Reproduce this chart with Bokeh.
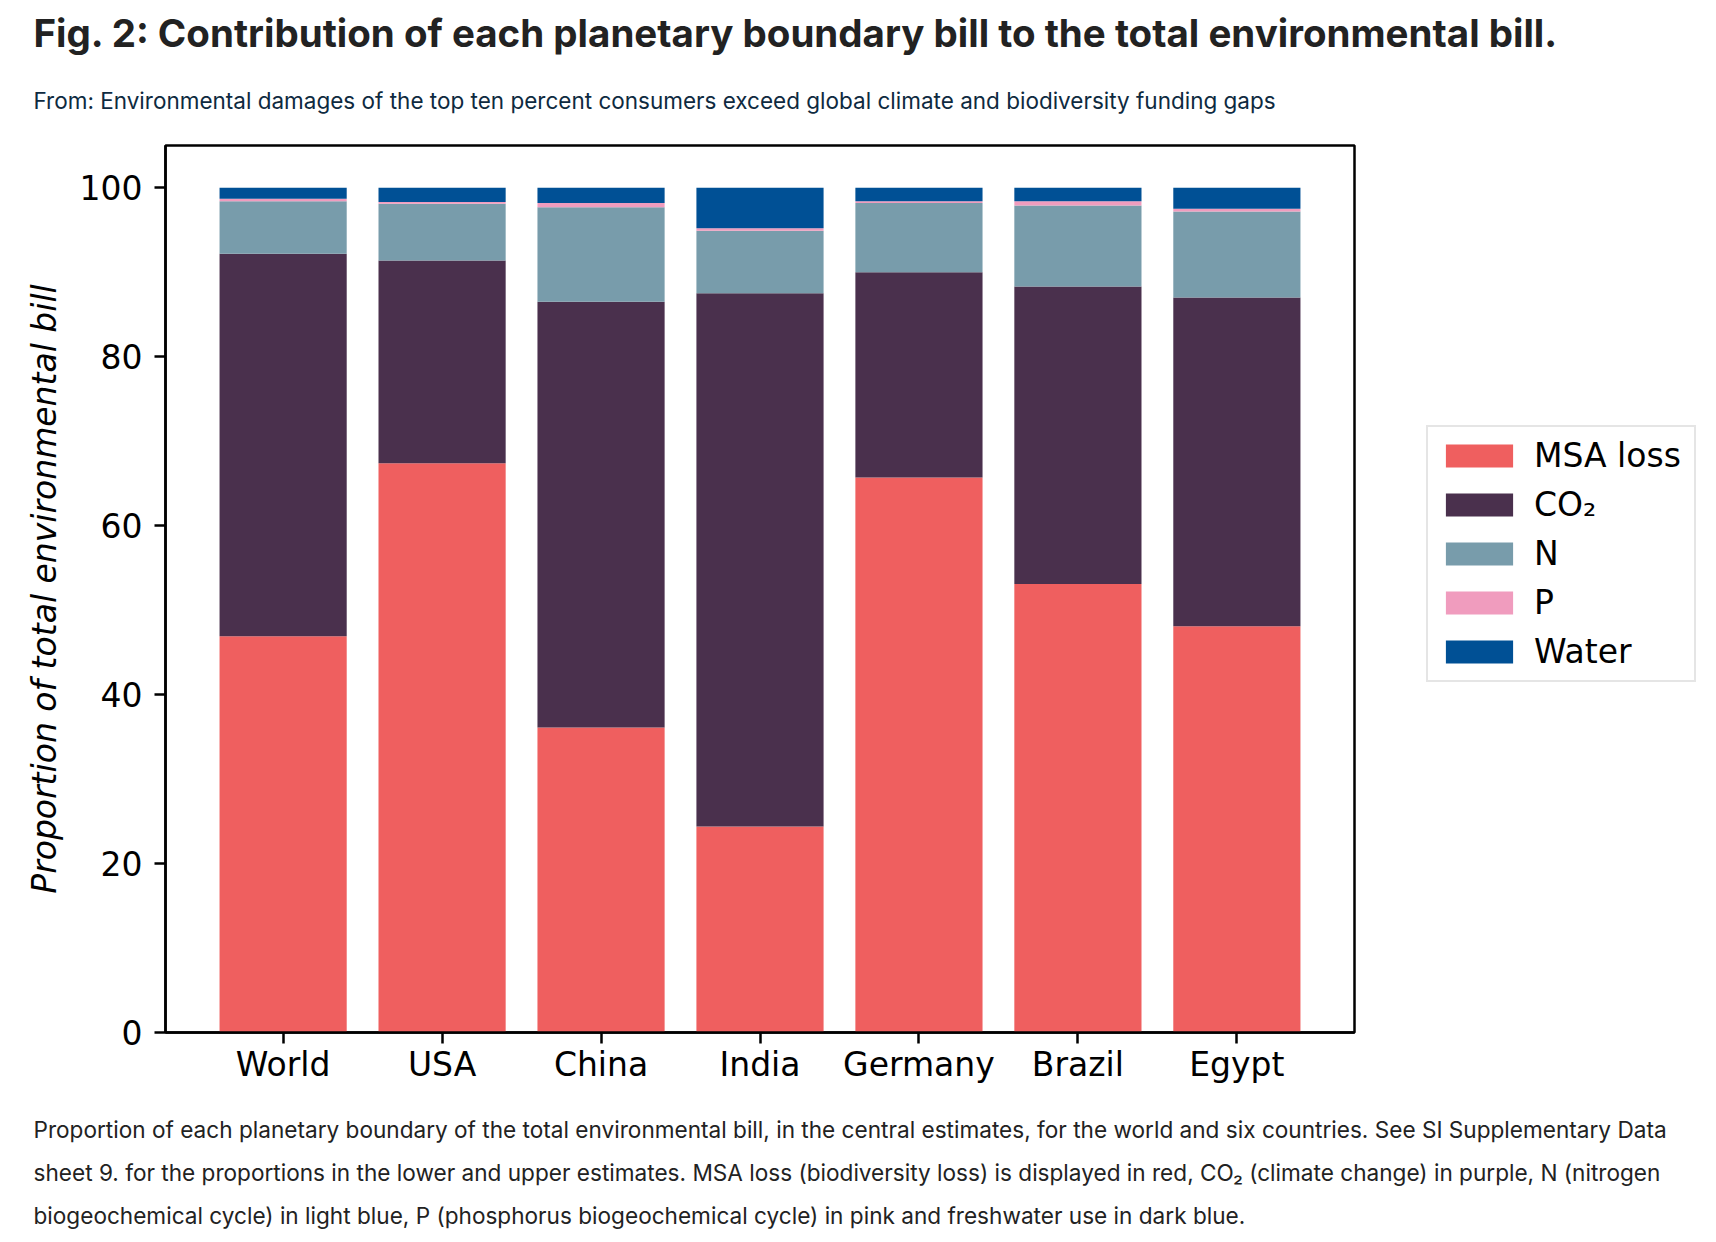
from bokeh.plotting import figure
from bokeh.models import (ColumnDataSource, FactorRange, Range1d, FixedTicker,
                          Title, Legend, LegendItem)
from bokeh.embed import file_html
from bokeh.resources import INLINE

# ---------------- data ----------------
countries = ["World", "USA", "China", "India", "Germany", "Brazil", "Egypt"]
msa_loss = [46.9, 67.4, 36.1, 24.4, 65.7, 53.1, 48.1]
co2 = [45.3, 24.0, 50.4, 63.1, 24.3, 35.2, 38.9]
nitrogen = [6.2, 6.7, 11.2, 7.4, 8.2, 9.6, 10.2]
phosphorus = [0.3, 0.2, 0.5, 0.3, 0.2, 0.5, 0.3]
water = [1.3, 1.7, 1.8, 4.8, 1.6, 1.6, 2.5]

series_names = ["MSA loss", "CO₂", "N", "P", "Water"]
series_keys = ["msa", "co2", "n", "p", "water"]
series_colors = ["#ef5f5f", "#4a304d", "#789cab", "#f09cbe", "#005095"]
y_ticks = [0, 20, 40, 60, 80, 100]

title_text = "Fig. 2: Contribution of each planetary boundary bill to the total environmental bill."
from_text = ("From: Environmental damages of the top ten percent consumers exceed global "
             "climate and biodiversity funding gaps")
caption_1 = ("Proportion of each planetary boundary of the total environmental bill, in the central "
             "estimates, for the world and six countries. See SI Supplementary Data")
caption_2 = ("sheet 9. for the proportions in the lower and upper estimates. MSA loss (biodiversity loss) is "
             "displayed in red, CO₂ (climate change) in purple, N (nitrogen")
caption_3 = ("biogeochemical cycle) in light blue, P (phosphorus biogeochemical cycle) in pink and "
             "freshwater use in dark blue.")

source = ColumnDataSource(dict(country=countries, msa=msa_loss, co2=co2,
                               n=nitrogen, p=phosphorus, water=water))

FONT = "DejaVu Sans"
TXT = "Inter"

p = figure(x_range=FactorRange(*countries, range_padding=0.48 / 7),
           y_range=Range1d(0, 105),
           frame_width=1189, frame_height=887,
           min_border_left=165, min_border_right=346,
           min_border_top=145, min_border_bottom=0,
           output_backend="svg", toolbar_location=None)
p.background_fill_color = "white"
p.border_fill_color = "white"
p.outline_line_color = "black"
p.outline_line_width = 2.5
p.xgrid.visible = False
p.ygrid.visible = False

renderers = p.vbar_stack(series_keys, x="country", width=0.8, source=source,
                         fill_color=series_colors, line_color=None)

for ax in (p.xaxis[0], p.yaxis[0]):
    ax.axis_line_color = "black"
    ax.axis_line_width = 2.5
    ax.major_tick_line_color = "black"
    ax.major_tick_line_width = 2.5
    ax.major_tick_out = 11
    ax.major_tick_in = 0
    ax.minor_tick_line_color = None
    ax.major_label_text_font = FONT
    ax.major_label_text_font_size = "33px"
    ax.major_label_text_color = "black"
    ax.major_label_standoff = 12
p.xaxis[0].major_label_standoff = 1

p.yaxis[0].ticker = FixedTicker(ticks=y_ticks)
p.yaxis[0].axis_label = "Proportion of total environmental bill"
p.yaxis[0].axis_label_text_font = FONT
p.yaxis[0].axis_label_text_font_size = "33px"
p.yaxis[0].axis_label_text_font_style = "italic"
p.yaxis[0].axis_label_text_color = "black"
p.yaxis[0].axis_label_standoff = 13

legend = Legend(items=[LegendItem(label=n, renderers=[r]) for n, r in zip(series_names, renderers)],
                location=(72, 350),
                glyph_width=84, glyph_height=29, label_standoff=13, label_width=151,
                label_text_font=FONT, label_text_font_size="33px", label_text_color="black",
                padding=9, spacing=10, margin=0,
                border_line_color="#cccccc", border_line_width=2.5,
                background_fill_color="white", background_fill_alpha=1.0)
p.add_layout(legend, "right")

# ---------------- header (above) : first added sits nearest the frame ----------------
p.add_layout(Title(text=" ", text_font=TXT, text_font_size="1px",
                   align="left", vertical_align="top", standoff=6), "above")
p.add_layout(Title(text=from_text, text_font=TXT, text_font_size="22.5px",
                   text_font_style="normal", text_color="#0e2a40",
                   align="left", offset=-132, vertical_align="top", standoff=41), "above")
p.add_layout(Title(text=title_text, text_font=TXT, text_font_size="38.5px",
                   text_font_style="bold", text_color="#222222",
                   align="left", offset=-132, vertical_align="top", standoff=17), "above")

# ---------------- caption (below) ----------------
p.add_layout(Title(text=" ", text_font=TXT, text_font_size="1px",
                   align="left", vertical_align="top", standoff=13), "below")
for txt, so in ((caption_1, 27), (caption_2, 0), (caption_3, 28)):
    p.add_layout(Title(text=txt, text_font=TXT, text_font_size="22.6px",
                       text_font_style="normal", text_color="#222222",
                       align="left", offset=-132, vertical_align="top", standoff=so), "below")

open("out.html", "w").write(file_html(p, INLINE))
